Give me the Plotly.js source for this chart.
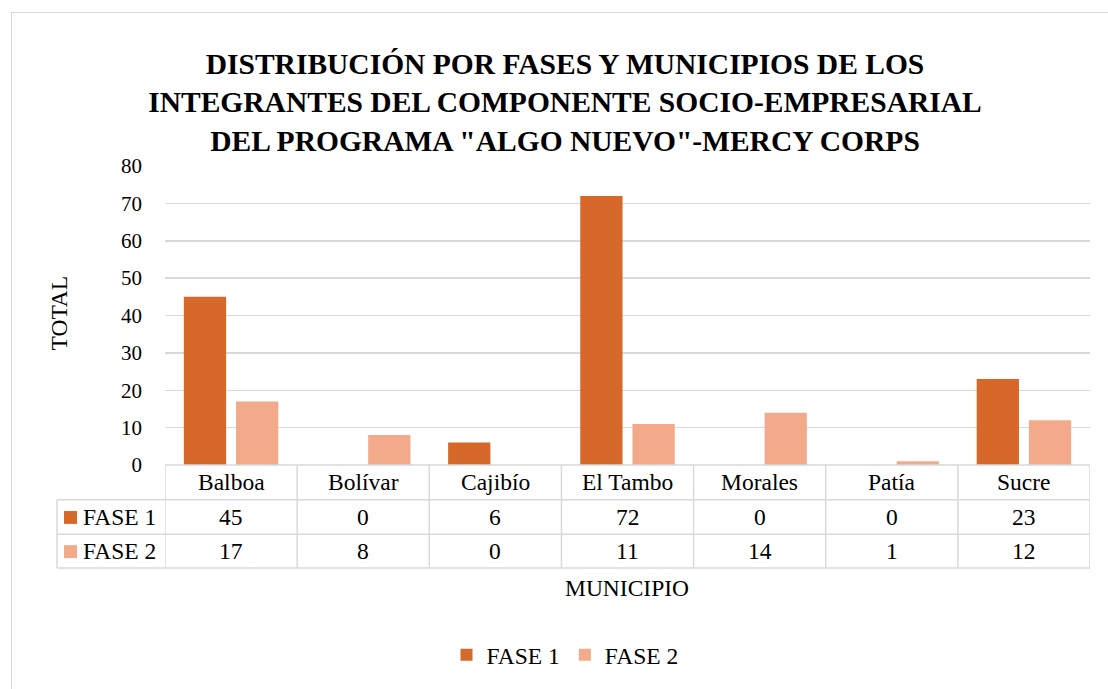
<!DOCTYPE html>
<html>
<head>
<meta charset="utf-8">
<script src="https://cdn.plot.ly/plotly-3.0.1.min.js"></script>
<style>
html,body{margin:0;padding:0;background:#fff;}
#wrap{position:relative;width:1108px;height:689px;overflow:hidden;}
#frame{position:absolute;left:11px;top:12px;width:1200px;height:800px;border-left:1.5px solid #D9D9D9;border-top:1.5px solid #D9D9D9;pointer-events:none;}
#chart{position:absolute;left:0;top:0;width:1108px;height:689px;}
</style>
</head>
<body>
<div id="wrap"><div id="chart"></div><div id="frame"></div></div>
<script>
var categories = ["Balboa", "Bolívar", "Cajibío", "El Tambo", "Morales", "Patía", "Sucre"];
var fase1 = [45, 0, 6, 72, 0, 0, 23];
var fase2 = [17, 8, 0, 11, 14, 1, 12];
var seriesNames = ["FASE 1", "FASE 2"];
var colors = ["#D6692A", "#F2AA8B"];
var titleText = "DISTRIBUCIÓN POR FASES Y MUNICIPIOS DE LOS<br>INTEGRANTES DEL COMPONENTE SOCIO-EMPRESARIAL<br>DEL PROGRAMA \"ALGO NUEVO\"-MERCY CORPS";
var yTitle = "TOTAL";
var xTitle = "MUNICIPIO";

var FONT = "Liberation Serif, Times New Roman, serif";
var W = 1108, H = 689;
var mL = 165, mR = 18, mT = 166, mB = 221;
var plotW = W - mL - mR, plotH = H - mT - mB;
var baseY = H - mB;
function py(Y){ return (baseY - Y) / plotH; }
function px(X){ return (X - mL) / plotW; }

var traces = [
  {type:"bar", name:seriesNames[0], x:categories, y:fase1, marker:{color:colors[0]}, hoverinfo:"x+y+name"},
  {type:"bar", name:seriesNames[1], x:categories, y:fase2, marker:{color:colors[1]}, hoverinfo:"x+y+name"}
];

var shapes = [];
var annotations = [];
var lineStyle = {color:"#D9D9D9", width:1.5};

var rowTop = baseY, row1 = 503, row2 = 538, row3 = 572, leftX = 57;
[row1, row2, row3].forEach(function(Y){
  shapes.push({type:"line", xref:"paper", yref:"paper", x0:px(leftX), x1:1, y0:py(Y), y1:py(Y), line:lineStyle, layer:"above"});
});
shapes.push({type:"line", xref:"paper", yref:"paper", x0:0, x1:1, y0:py(rowTop), y1:py(rowTop), line:lineStyle, layer:"above"});
for (var i = 0; i <= categories.length; i++) {
  shapes.push({type:"line", xref:"x", yref:"paper", x0:i-0.5, x1:i-0.5, y0:py(rowTop), y1:py(row3), line:lineStyle, layer:"above"});
}
shapes.push({type:"line", xref:"paper", yref:"paper", x0:px(leftX), x1:px(leftX), y0:py(row1), y1:py(row3), line:lineStyle, layer:"above"});

var tf = {family:FONT, size:23.5, color:"#000"};
var rowsY = [(rowTop+row1)/2, (row1+row2)/2, (row2+row3)/2];
var data = [fase1, fase2];
categories.forEach(function(c, i){
  annotations.push({xref:"x", yref:"paper", x:i, y:py(rowsY[0]), text:c, showarrow:false, font:tf, xanchor:"center", yanchor:"middle"});
  data.forEach(function(arr, s){
    annotations.push({xref:"x", yref:"paper", x:i, y:py(rowsY[s+1]), text:String(arr[i]), showarrow:false, font:tf, xanchor:"center", yanchor:"middle"});
  });
});
seriesNames.forEach(function(n, s){
  var cy = rowsY[s+1];
  shapes.push({type:"rect", xref:"paper", yref:"paper", x0:px(64), x1:px(77), y0:py(cy+7), y1:py(cy-6), fillcolor:colors[s], line:{width:0}, layer:"above"});
  annotations.push({xref:"paper", yref:"paper", x:px(81), y:py(cy), text:n, showarrow:false, font:tf, xanchor:"left", yanchor:"middle"});
});
annotations.push({xref:"paper", yref:"paper", x:px(59), y:py(315), text:yTitle, textangle:-90, showarrow:false, font:tf, xanchor:"center", yanchor:"middle"});
annotations.push({xref:"paper", yref:"paper", x:px(627), y:py(592), text:xTitle, showarrow:false, font:tf, xanchor:"center", yanchor:"middle"});

var layout = {
  width:W, height:H,
  margin:{l:mL, r:mR, t:mT, b:mB, pad:0},
  paper_bgcolor:"rgba(0,0,0,0)", plot_bgcolor:"rgba(0,0,0,0)",
  font:{family:FONT, size:21, color:"#000"},
  title:{text:titleText, font:{family:FONT, size:29.5, color:"#000", weight:"bold"}, x:565/W, xanchor:"center", y:1-74/H, yanchor:"top", yref:"container"},
  barmode:"group", bargap:0.21, bargroupgap:0.19,
  xaxis:{type:"category", showticklabels:false, showgrid:false, zeroline:false, showline:false, ticks:"", range:[-0.5, categories.length-0.5], fixedrange:true},
  yaxis:{range:[0,80], dtick:10, showgrid:true, gridcolor:"#D9D9D9", gridwidth:1.5, zeroline:false, showline:false, ticks:"", ticklabelstandoff:22, tickfont:{family:FONT, size:21, color:"#000"}, fixedrange:true},
  showlegend:true,
  legend:{orientation:"h", xref:"paper", yref:"paper", x:px(565), xanchor:"center", y:py(660), yanchor:"middle", font:{family:FONT, size:23.5, color:"#000"}, itemwidth:30, tracegroupgap:0, bgcolor:"rgba(0,0,0,0)"},
  shapes:shapes,
  annotations:annotations
};
Plotly.newPlot("chart", traces, layout, {displayModeBar:false, staticPlot:true});
</script>
</body>
</html>
